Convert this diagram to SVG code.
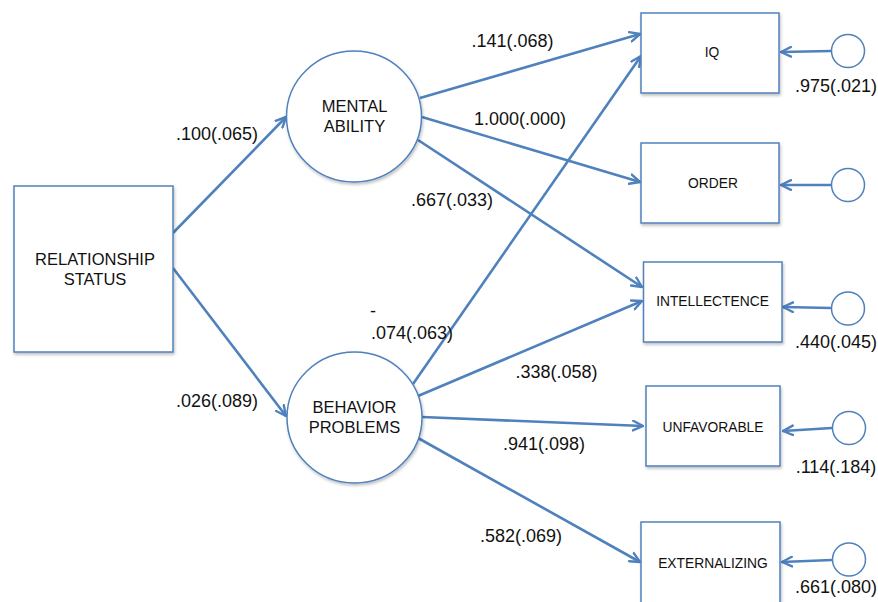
<svg xmlns="http://www.w3.org/2000/svg" width="878" height="602" viewBox="0 0 878 602">
<defs>
<style>
.box{fill:#fff;stroke:#4f81bd;stroke-width:1.5;filter:url(#sh)}
.ell{fill:#fff;stroke:#4f81bd;stroke-width:1.5;filter:url(#sh)}
.err{fill:#fff;stroke:#4f81bd;stroke-width:1.5}
.con{stroke:#4f81bd;stroke-width:2.6;fill:none;marker-end:url(#arr)}
text{font-family:"Liberation Sans",Arial,sans-serif;fill:#111}
.lab{font-size:16.5px;text-anchor:middle}
.blab{font-size:13.8px;text-anchor:middle}
.num{font-size:18px;text-anchor:middle}
.nums{font-size:18px;text-anchor:start}
</style>
<filter id="sh" x="-10%" y="-10%" width="130%" height="130%">
<feDropShadow dx="1" dy="2" stdDeviation="1.5" flood-color="#000" flood-opacity="0.25"/>
</filter>
<marker id="arr" markerUnits="userSpaceOnUse" viewBox="0 0 12 12" markerWidth="12" markerHeight="12" refX="11" refY="6" orient="auto">
<path d="M1,1.2 L11,6 L1,10.8" fill="none" stroke="#4f81bd" stroke-width="2.4" stroke-linecap="round" stroke-linejoin="round"/>
</marker>
</defs>
<rect width="878" height="602" fill="#fff"/>

<g id="connectors">
<line class="con" x1="173" y1="233" x2="286" y2="117"/>
<line class="con" x1="173" y1="268" x2="286" y2="416"/>
<line class="con" x1="420" y1="98" x2="640" y2="34"/>
<line class="con" x1="422" y1="117" x2="640" y2="182"/>
<line class="con" x1="418" y1="140" x2="642" y2="287"/>
<line class="con" x1="413" y1="384" x2="641" y2="56"/>
<line class="con" x1="418" y1="396" x2="642" y2="301"/>
<line class="con" x1="422" y1="417" x2="643" y2="426"/>
<line class="con" x1="418" y1="438" x2="640" y2="562"/>
<line class="con" x1="831" y1="51" x2="781" y2="52"/>
<line class="con" x1="831" y1="185" x2="781" y2="185"/>
<line class="con" x1="831" y1="308" x2="783" y2="307"/>
<line class="con" x1="832" y1="428" x2="783" y2="431"/>
<line class="con" x1="832" y1="560" x2="782" y2="562"/>
</g>

<g id="relationship-status">
<rect class="box" x="14" y="186" width="159" height="166"/>
<text class="lab" x="95" y="265">RELATIONSHIP</text>
<text class="lab" x="95" y="285">STATUS</text>
</g>
<g id="mental-ability">
<ellipse class="ell" cx="354" cy="116.5" rx="67.5" ry="65.5"/>
<text class="lab" x="354.5" y="112">MENTAL</text>
<text class="lab" x="354.5" y="132">ABILITY</text>
</g>
<g id="behavior-problems">
<ellipse class="ell" cx="354.5" cy="417.5" rx="67.5" ry="65.5"/>
<text class="lab" x="354.5" y="413">BEHAVIOR</text>
<text class="lab" x="354.5" y="433">PROBLEMS</text>
</g>
<g id="iq">
<rect class="box" x="641" y="13" width="138" height="80"/>
<text class="blab" x="712" y="57">IQ</text>
</g>
<g id="order">
<rect class="box" x="641" y="143" width="138" height="80"/>
<text class="blab" x="713" y="188">ORDER</text>
</g>
<g id="intellectence">
<rect class="box" x="643.5" y="262" width="138.5" height="80"/>
<text class="blab" x="712.5" y="306">INTELLECTENCE</text>
</g>
<g id="unfavorable">
<rect class="box" x="646" y="386" width="134" height="80"/>
<text class="blab" x="713" y="432">UNFAVORABLE</text>
</g>
<g id="externalizing">
<rect class="box" x="641" y="522" width="139" height="82"/>
<text class="blab" x="713" y="568">EXTERNALIZING</text>
</g>
<g id="e-iq"><circle class="err" cx="848" cy="51" r="16.5"/></g>
<g id="e-order"><circle class="err" cx="848" cy="185" r="16.5"/></g>
<g id="e-intellectence"><circle class="err" cx="848" cy="308.5" r="16.5"/></g>
<g id="e-unfavorable"><circle class="err" cx="849" cy="428" r="16.5"/></g>
<g id="e-externalizing"><circle class="err" cx="849" cy="559.5" r="16.5"/></g>

<g id="labels">
<text class="num" x="217" y="140">.100(.065)</text>
<text class="num" x="217" y="407">.026(.089)</text>
<text class="num" x="512.5" y="47">.141(.068)</text>
<text class="num" x="520" y="125">1.000(.000)</text>
<text class="num" x="452" y="206">.667(.033)</text>
<text class="nums" x="370" y="317">-</text>
<text class="num" x="412" y="339">.074(.063)</text>
<text class="num" x="556.5" y="378">.338(.058)</text>
<text class="num" x="544" y="450">.941(.098)</text>
<text class="num" x="521" y="542">.582(.069)</text>
<text class="num" x="836" y="92">.975(.021)</text>
<text class="num" x="836" y="348">.440(.045)</text>
<text class="num" x="836" y="473">.114(.184)</text>
<text class="num" x="836" y="593">.661(.080)</text>
</g>
</svg>
